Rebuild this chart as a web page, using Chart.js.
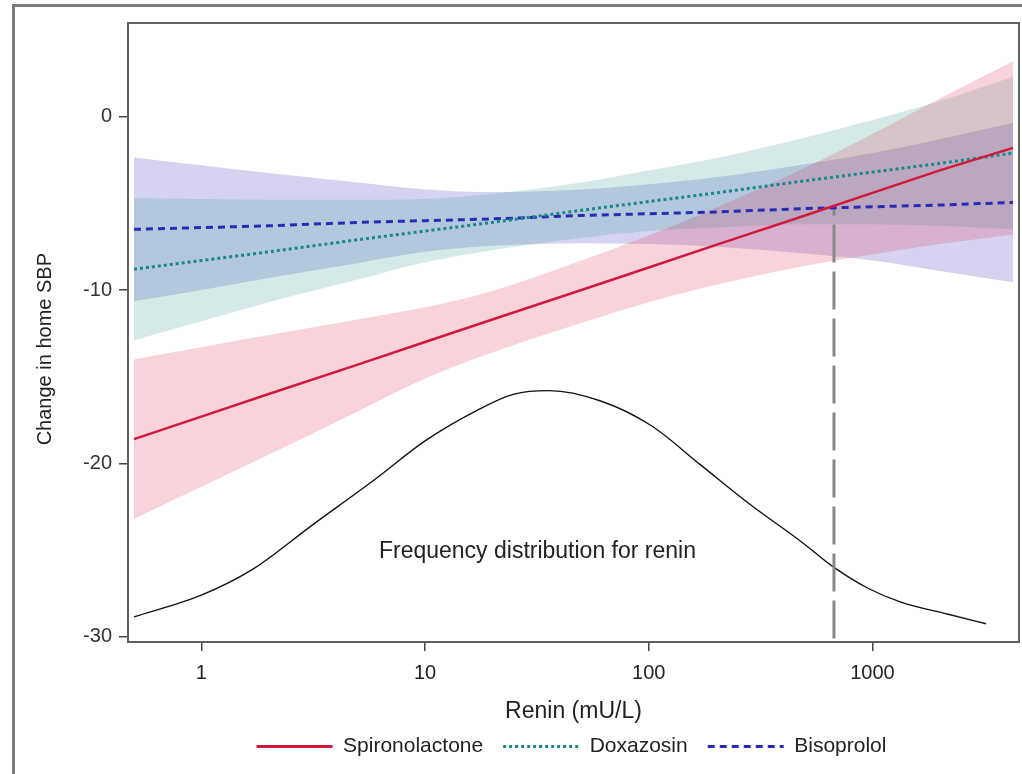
<!DOCTYPE html>
<html>
<head>
<meta charset="utf-8">
<script src="https://cdn.jsdelivr.net/npm/chart.js@4"></script>
<style>
  html, body { margin: 0; padding: 0; background: #fff; overflow: hidden; }
  #wrap { position: relative; width: 1022px; height: 774px; }
  #frame { position: absolute; left: 12px; top: 4px; width: 1200px; height: 1000px; border: 3px solid #7a7a7a; box-sizing: border-box; }
  canvas { position: absolute; left: 0; top: 0; }
</style>
</head>
<body>
<div id="wrap">
  <div id="frame"></div>
  <canvas id="chart" width="1022" height="774"></canvas>
</div>
<script>
// renin grid (mU/L) the fitted lines are read at
const renin = [0.5, 1, 2, 5, 10, 20, 50, 100, 200, 500, 1000, 2000, 4250];

const spiro      = [-18.6, -17.3, -16.0, -14.3, -13.0, -11.7, -10.0, -8.7, -7.4, -5.7, -4.4, -3.1, -1.8];
const spiroUpper = [-14.0, -13.3, -12.6, -11.7, -11.0, -10.05, -8.3, -6.85, -5.25, -2.95, -1.0, 1.05, 3.2];
const spiroLower = [-23.2, -21.35, -19.5, -17.0, -15.1, -13.6, -11.9, -10.7, -9.7, -8.6, -7.95, -7.35, -6.8];

const doxa      = [-8.8, -8.3, -7.8, -7.1, -6.6, -6.1, -5.4, -4.9, -4.4, -3.7, -3.2, -2.7, -2.1];
const doxaUpper = [-4.7, -4.75, -4.8, -4.8, -4.75, -4.45, -3.8, -3.1, -2.4, -1.2, -0.2, 0.9, 2.3];
const doxaLower = [-12.9, -11.8, -10.7, -9.4, -8.4, -7.7, -7.0, -6.6, -6.4, -6.2, -6.2, -6.3, -6.5];

const biso      = [-6.5, -6.4, -6.3, -6.1, -6.0, -5.9, -5.7, -5.6, -5.5, -5.3, -5.2, -5.1, -4.95];
const bisoUpper = [-2.35, -2.8, -3.25, -3.8, -4.2, -4.35, -4.2, -3.9, -3.5, -2.75, -2.1, -1.3, -0.35];
const bisoLower = [-10.65, -10.0, -9.3, -8.45, -7.8, -7.45, -7.3, -7.35, -7.5, -7.9, -8.3, -8.9, -9.55];

// frequency distribution curve (drawn in the same y units)
const freqRenin = [0.5, 1, 1.7, 3.1, 6, 10, 17, 25, 36, 61, 102, 171, 286, 479, 673, 955, 1340, 2180, 3220];
const freqValue = [-28.85, -27.6, -26.1, -23.6, -20.9, -18.7, -16.95, -16.0, -15.8, -16.4, -17.8, -20.1, -22.4, -24.5, -26.0, -27.2, -28.0, -28.7, -29.25];

const cutoffRenin = [673, 673];
const cutoffValue = [-30.1, -5.2];

const xTicks = [1, 10, 100, 1000];
const yTicks = [0, -10, -20, -30];
const seriesNames = ["Spironolactone", "Doxazosin", "Bisoprolol"];
const noteText = "Frequency distribution for renin";
const noteAt = [31.8, -25.1];

const FONT = "'Liberation Sans', Arial, Helvetica, sans-serif";

function pts(xs, ys) {
  return xs.map((x, i) => ({ x: x, y: ys[i] }));
}

function line(label, values, color, dash, width) {
  return {
    label: label, data: pts(renin, values), borderColor: color, backgroundColor: color,
    borderWidth: width, borderDash: dash, pointRadius: 0, fill: false
  };
}

function band(values, color, fillTo) {
  return {
    label: "", data: pts(renin, values), borderWidth: 0, borderColor: "rgba(0,0,0,0)",
    backgroundColor: color, pointRadius: 0, fill: fillTo, cubicInterpolationMode: "monotone"
  };
}

// box round the plot area
const framePlugin = {
  id: "frame",
  afterDatasetsDraw(chart) {
    const a = chart.chartArea, ctx = chart.ctx;
    ctx.save();
    ctx.strokeStyle = "#606060";
    ctx.lineWidth = 2;
    ctx.strokeRect(a.left, a.top, a.right - a.left, a.bottom - a.top);
    ctx.restore();
  }
};

const notePlugin = {
  id: "note",
  afterDatasetsDraw(chart) {
    const ctx = chart.ctx;
    ctx.save();
    ctx.font = "23px " + FONT;
    ctx.fillStyle = "#222";
    ctx.textAlign = "center";
    ctx.textBaseline = "middle";
    ctx.fillText(noteText, chart.scales.x.getPixelForValue(noteAt[0]), chart.scales.y.getPixelForValue(noteAt[1]));
    ctx.restore();
  }
};

// legend sits under the plot area, not the canvas centre
const legendShift = {
  id: "legendShift",
  afterLayout(chart) {
    const lg = chart.legend;
    if (!lg) return;
    lg.left += 62;
    lg.right += 62;
  }
};

const tickGrid = { drawOnChartArea: false, tickLength: 9, color: "#444", lineWidth: 1.5 };

new Chart(document.getElementById("chart"), {
  type: "line",
  data: {
    datasets: [
      line(seriesNames[0], spiro, "#d2193c", [], 2.5),
      line(seriesNames[1], doxa, "#168a88", [3, 3], 3),
      line(seriesNames[2], biso, "#2a2ab8", [7, 5], 3),
      {
        label: "", data: pts(cutoffRenin, cutoffValue), borderColor: "#888", borderWidth: 3,
        borderDash: [38, 9], pointRadius: 0, fill: false
      },
      {
        label: "", data: pts(freqRenin, freqValue), borderColor: "#111", borderWidth: 1.4,
        pointRadius: 0, fill: false, cubicInterpolationMode: "monotone"
      },
      band(spiroUpper, "rgba(220,40,70,0.2)", 6),
      band(spiroLower, "rgba(0,0,0,0)", false),
      band(doxaUpper, "rgba(40,150,140,0.2)", 8),
      band(doxaLower, "rgba(0,0,0,0)", false),
      band(bisoUpper, "rgba(90,80,200,0.25)", 10),
      band(bisoLower, "rgba(0,0,0,0)", false)
    ]
  },
  options: {
    responsive: false,
    animation: false,
    devicePixelRatio: 1,
    layout: { padding: { left: 0, right: 3, top: 23, bottom: 7 } },
    plugins: {
      tooltip: { enabled: false },
      legend: {
        position: "bottom",
        labels: {
          usePointStyle: true,
          pointStyleWidth: 76,
          padding: 20,
          color: "#222",
          font: { size: 21, family: FONT },
          generateLabels: (chart) => [0, 1, 2].map(i => {
            const ds = chart.data.datasets[i];
            return {
              text: ds.label, datasetIndex: i, strokeStyle: ds.borderColor, fillStyle: ds.borderColor,
              lineWidth: 3, lineDash: ds.borderDash, pointStyle: "line", fontColor: "#222", hidden: false
            };
          })
        }
      }
    },
    scales: {
      x: {
        type: "logarithmic",
        min: 0.47,
        max: 4520,
        afterBuildTicks: s => { s.ticks = xTicks.map(v => ({ value: v })); },
        afterFit: s => { s.height = 74; },
        ticks: { callback: v => String(v), autoSkip: false, maxRotation: 0, color: "#222", padding: 10, font: { size: 20, family: FONT } },
        grid: tickGrid,
        border: { display: false },
        title: { display: true, text: "Renin (mU/L)", color: "#222", font: { size: 23, family: FONT }, padding: { top: 0, bottom: -9 } }
      },
      y: {
        type: "linear",
        min: -30.3,
        max: 5.4,
        afterBuildTicks: s => { s.ticks = yTicks.map(v => ({ value: v })); },
        afterFit: s => { s.width = 128; },
        ticks: { color: "#333", padding: 7, font: { size: 20, family: FONT } },
        grid: tickGrid,
        border: { display: false },
        title: {
          display: true, text: "Change in home SBP" + "\u00a0".repeat(6), color: "#222",
          font: { size: 20, family: FONT }, padding: { top: 33, bottom: 0 }
        }
      }
    }
  },
  plugins: [framePlugin, notePlugin, legendShift]
});
</script>
</body>
</html>
